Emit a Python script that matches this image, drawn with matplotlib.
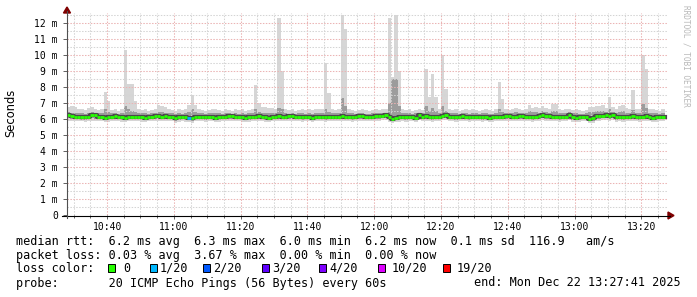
import numpy as np
import matplotlib
matplotlib.use('Agg')
import matplotlib.pyplot as plt
from matplotlib.patches import Polygon, Rectangle
from matplotlib.lines import Line2D

# minutes since midnight, first sample 10:28, one sample per minute
t_start = 10 * 60 + 28
t_end = 13 * 60 + 28

# median rtt (ms)
med = [6.27, 6.2, 6.12, 6.12, 6.1, 6.1, 6.12, 6.25, 6.22, 6.12,
       6.12, 6.06, 6.1, 6.14, 6.16, 6.12, 6.1, 6.08, 6.15, 6.12,
       6.14, 6.12, 6.1, 6.08, 6.1, 6.15, 6.18, 6.16, 6.15, 6.18,
       6.14, 6.12, 6.04, 6.1, 6.12, 6.1, 6.08, 6.04, 6.12, 6.14,
       6.12, 6.1, 6.15, 6.12, 6.08, 6.1, 6.14, 6.12, 6.16, 6.18,
       6.15, 6.12, 6.1, 6.08, 6.1, 6.12, 6.14, 6.16, 6.12, 6.1,
       6.08, 6.12, 6.14, 6.16, 6.12, 6.14, 6.16, 6.18, 6.15, 6.12,
       6.1, 6.12, 6.14, 6.06, 6.12, 6.14, 6.12, 6.1, 6.14, 6.12,
       6.12, 6.14, 6.16, 6.14, 6.12, 6.1, 6.12, 6.18, 6.16, 6.14,
       6.12, 6.14, 6.16, 6.18, 6.2, 6.22, 6.1, 6.02, 6.08, 6.1,
       6.12, 6.1, 6.14, 6.12, 6.08, 6.26, 6.14, 6.16, 6.12, 6.1,
       6.12, 6.14, 6.2, 6.25, 6.14, 6.12, 6.1, 6.14, 6.16, 6.12,
       6.1, 6.12, 6.14, 6.12, 6.1, 6.12, 6.08, 6.1, 6.12, 6.14,
       6.12, 6.16, 6.18, 6.14, 6.12, 6.16, 6.18, 6.14, 6.12, 6.1,
       6.14, 6.18, 6.22, 6.18, 6.16, 6.14, 6.12, 6.1, 6.12, 6.14,
       6.25, 6.1, 6.06, 6.1, 6.12, 6.14, 6.02, 6.04, 6.16, 6.18,
       6.2, 6.22, 6.18, 6.25, 6.1, 6.12, 6.1, 6.14, 6.12, 6.16,
       6.14, 6.1, 6.12, 6.16, 6.12, 6.08, 6.1, 6.14, 6.12]

# slowest ping of each round (top of the smoke)
hi = [6.75, 6.8, 6.75, 6.6, 6.6, 6.55, 6.7, 6.75, 6.6, 6.55,
      6.6, 7.7, 7.1, 6.55, 6.6, 6.5, 6.6, 10.3, 8.2, 8.2,
      7.1, 6.6, 6.55, 6.6, 6.5, 6.55, 6.6, 6.85, 6.8, 6.75,
      6.6, 6.55, 6.5, 6.6, 6.55, 6.6, 6.9, 7.5, 6.9, 6.6,
      6.55, 6.5, 6.55, 6.6, 6.6, 6.55, 6.5, 6.6, 6.55, 6.5,
      6.6, 6.55, 6.6, 6.5, 6.55, 6.6, 8.1, 7.0, 6.75, 6.75,
      6.7, 6.7, 6.6, 12.3, 9.0, 6.6, 6.55, 6.6, 6.5, 6.55,
      6.6, 6.55, 6.6, 6.55, 6.6, 6.65, 6.6, 9.5, 7.6, 6.6,
      6.55, 6.6, 12.5, 11.6, 6.6, 6.55, 6.5, 6.55, 6.6, 6.55,
      6.5, 6.55, 6.6, 6.55, 6.65, 6.6, 12.3, 8.6, 12.5, 9.0,
      6.6, 6.55, 6.6, 6.5, 6.55, 6.6, 6.55, 9.1, 7.4, 8.8,
      7.35, 6.65, 10.0, 7.85, 6.6, 6.55, 6.6, 6.5, 6.55, 6.6,
      6.55, 6.6, 6.55, 6.5, 6.55, 6.6, 6.55, 6.5, 6.6, 8.3,
      7.25, 6.6, 6.55, 6.6, 6.7, 6.6, 6.55, 6.6, 6.9, 6.7,
      6.75, 6.7, 6.8, 6.7, 6.65, 6.95, 6.95, 6.6, 6.55, 6.6,
      6.65, 6.55, 6.6, 6.55, 6.5, 6.55, 6.75, 6.75, 6.8, 6.8,
      6.85, 6.7, 7.35, 6.75, 6.6, 6.8, 6.85, 6.7, 6.6, 7.8,
      6.65, 6.6, 10.0, 9.15, 6.65, 6.6, 6.55, 6.5, 6.6]

# upper edge of the dense part of the smoke
up = [6.45, 6.4, 6.4, 6.35, 6.35, 6.3, 6.4, 6.45, 6.4, 6.35,
      6.35, 6.6, 6.45, 6.35, 6.4, 6.3, 6.35, 6.8, 6.6, 6.5,
      6.45, 6.4, 6.35, 6.35, 6.3, 6.35, 6.4, 6.45, 6.45, 6.4,
      6.35, 6.35, 6.3, 6.35, 6.3, 6.35, 6.45, 6.6, 6.45, 6.35,
      6.35, 6.3, 6.35, 6.35, 6.4, 6.35, 6.3, 6.35, 6.35, 6.3,
      6.35, 6.3, 6.35, 6.3, 6.35, 6.35, 6.6, 6.45, 6.4, 6.4,
      6.4, 6.4, 6.35, 6.7, 6.6, 6.35, 6.3, 6.35, 6.3, 6.35,
      6.35, 6.3, 6.35, 6.3, 6.35, 6.4, 6.35, 6.6, 6.45, 6.35,
      6.35, 6.4, 7.3, 6.8, 6.4, 6.35, 6.3, 6.35, 6.35, 6.3,
      6.3, 6.35, 6.35, 6.35, 6.4, 6.4, 7.0, 8.5, 8.5, 6.8,
      6.4, 6.35, 6.35, 6.3, 6.35, 6.4, 6.35, 6.8, 6.5, 6.7,
      6.5, 6.4, 6.8, 6.5, 6.4, 6.35, 6.35, 6.3, 6.35, 6.35,
      6.3, 6.35, 6.35, 6.3, 6.35, 6.35, 6.3, 6.3, 6.35, 6.6,
      6.45, 6.35, 6.35, 6.4, 6.45, 6.4, 6.35, 6.4, 6.5, 6.45,
      6.45, 6.4, 6.5, 6.45, 6.4, 6.5, 6.5, 6.4, 6.35, 6.35,
      6.45, 6.35, 6.35, 6.3, 6.3, 6.35, 6.45, 6.45, 6.5, 6.5,
      6.5, 6.45, 6.6, 6.45, 6.4, 6.45, 6.5, 6.4, 6.35, 6.55,
      6.4, 6.35, 6.95, 6.7, 6.4, 6.35, 6.35, 6.3, 6.35]

# lower edge of the dense part of the smoke
dn = [6.05, 6.0, 5.98, 5.98, 5.96, 5.96, 5.98, 6.05, 6.02, 5.98,
      5.98, 5.92, 5.96, 6.0, 6.0, 5.98, 5.96, 5.94, 6.0, 5.98,
      6.0, 5.98, 5.96, 5.94, 5.96, 6.0, 6.02, 6.0, 6.0, 6.02,
      6.0, 5.98, 5.9, 5.96, 5.98, 5.96, 5.94, 5.9, 5.98, 6.0,
      5.98, 5.96, 6.0, 5.98, 5.94, 5.96, 6.0, 5.98, 6.0, 6.02,
      6.0, 5.98, 5.96, 5.94, 5.96, 5.98, 6.0, 6.0, 5.98, 5.96,
      5.94, 5.98, 6.0, 6.0, 5.98, 6.0, 6.0, 6.02, 6.0, 5.98,
      5.96, 5.98, 6.0, 5.92, 5.98, 6.0, 5.98, 5.96, 6.0, 5.98,
      5.98, 6.0, 6.0, 6.0, 5.98, 5.96, 5.98, 6.02, 6.0, 6.0,
      5.98, 6.0, 6.0, 6.02, 6.04, 6.05, 5.96, 5.88, 5.94, 5.96,
      5.98, 5.96, 6.0, 5.98, 5.94, 6.08, 6.0, 6.0, 5.98, 5.96,
      5.98, 6.0, 6.04, 6.08, 6.0, 5.98, 5.96, 6.0, 6.0, 5.98,
      5.96, 5.98, 6.0, 5.98, 5.96, 5.98, 5.94, 5.96, 5.98, 6.0,
      5.98, 6.0, 6.02, 6.0, 5.98, 6.0, 6.02, 6.0, 5.98, 5.96,
      6.0, 6.02, 6.06, 6.02, 6.0, 6.0, 5.98, 5.96, 5.98, 6.0,
      6.08, 5.96, 5.92, 5.96, 5.98, 6.0, 5.88, 5.9, 6.0, 6.02,
      6.04, 6.06, 6.02, 6.08, 5.96, 5.98, 5.96, 6.0, 5.98, 6.0,
      6.0, 5.96, 5.98, 6.0, 5.98, 5.94, 5.96, 6.0, 5.98]

# fastest ping of each round (bottom of the smoke)
lo = [5.9, 5.85, 5.85, 5.88, 5.85, 5.82, 5.85, 5.9, 5.88, 5.85,
      5.85, 5.8, 5.82, 5.88, 5.88, 5.85, 5.82, 5.8, 5.88, 5.85,
      5.88, 5.85, 5.82, 5.8, 5.85, 5.88, 5.9, 5.88, 5.88, 5.9,
      5.88, 5.85, 5.78, 5.82, 5.85, 5.82, 5.8, 5.78, 5.85, 5.88,
      5.85, 5.82, 5.88, 5.85, 5.8, 5.82, 5.88, 5.85, 5.88, 5.9,
      5.88, 5.85, 5.82, 5.8, 5.82, 5.85, 5.88, 5.88, 5.85, 5.82,
      5.8, 5.85, 5.88, 5.88, 5.85, 5.88, 5.88, 5.9, 5.88, 5.85,
      5.82, 5.85, 5.88, 5.8, 5.85, 5.88, 5.85, 5.82, 5.88, 5.85,
      5.85, 5.88, 5.88, 5.88, 5.85, 5.82, 5.85, 5.9, 5.88, 5.88,
      5.85, 5.88, 5.88, 5.9, 5.92, 5.92, 5.82, 5.76, 5.8, 5.82,
      5.85, 5.82, 5.88, 5.85, 5.8, 5.95, 5.88, 5.88, 5.85, 5.82,
      5.85, 5.88, 5.92, 5.95, 5.88, 5.85, 5.82, 5.88, 5.88, 5.85,
      5.82, 5.85, 5.88, 5.85, 5.82, 5.85, 5.8, 5.82, 5.85, 5.88,
      5.85, 5.88, 5.9, 5.88, 5.85, 5.88, 5.9, 5.88, 5.85, 5.82,
      5.88, 5.9, 5.92, 5.9, 5.88, 5.88, 5.85, 5.82, 5.85, 5.88,
      5.95, 5.82, 5.8, 5.82, 5.85, 5.88, 5.76, 5.78, 5.88, 5.9,
      5.92, 5.92, 5.9, 5.95, 5.82, 5.85, 5.82, 5.88, 5.85, 5.88,
      5.88, 5.82, 5.85, 5.88, 5.85, 5.8, 5.82, 5.88, 5.85]

# rounds with lost pings: sample index -> pings lost out of 20
lost = {36: 1}

loss_steps = ['0', '1/20', '2/20', '3/20', '4/20', '10/20', '19/20']
loss_colors = ['#26ff00', '#00b8ff', '#0059ff', '#5e00ff', '#7e00ff', '#dd00ff', '#ff0000']
loss_levels = [0, 1, 2, 3, 4, 10, 19]

rtt_stats = ['6.2', '6.3', '6.0', '6.2', '0.1']
am_s = '116.9'
loss_stats = ['0.03', '3.67', '0.00', '0.00']
probe_txt = '20 ICMP Echo Pings (56 Bytes) every 60s'
end_txt = 'end: Mon Dec 22 13:27:41 2025'

W, H = 697, 297


def P(x, y):
    return (x / W, 1 - y / H)


def loss_color(n):
    c = loss_colors[0]
    for lvl, col in zip(loss_levels, loss_colors):
        if n >= lvl:
            c = col
    return c


def main():
    fig = plt.figure(figsize=(W / 100, H / 100), dpi=100)
    fig.patch.set_facecolor('white')
    ax = fig.add_axes([67 / W, (H - 215) / H, 601 / W, (215 - 12.6) / H])
    ax.set_xlim(t_start, t_end)
    ax.set_ylim(0, 12.65)

    n = len(med)
    x = t_start + np.arange(n + 1)
    def ext(a):
        return np.append(a, a[-1])

    ax.fill_between(x, ext(lo), ext(hi), step='post', color='#d6d6d6', lw=0, zorder=1)
    ax.fill_between(x, ext(dn), ext(up), step='post', color='#9c9c9c', lw=0, zorder=1.1)
    # dark core of the smoke around the median
    ax.step(x, ext(med), where='post', color='#4a4a4a', lw=3.0, zorder=3)
    cols = [loss_color(lost.get(i, 0)) for i in range(n)]
    ax.hlines(med, x[:-1], x[1:], colors=cols, lw=2.0, zorder=3.1, capstyle='butt')

    # grid
    ax.set_xticks(np.arange(t_start + 12, t_end, 20))
    ax.set_xticks(np.arange(t_start + 2, t_end, 5), minor=True)
    ax.set_xticklabels(['%d:%02d' % (m // 60, m % 60) for m in np.arange(t_start + 12, t_end, 20)])
    ax.set_yticks(np.arange(0, 13))
    ax.set_yticks(np.arange(0.5, 12.6, 1), minor=True)
    ax.set_yticklabels(['0'] + ['%d m' % v for v in range(1, 13)])
    ax.set_axisbelow(False)
    ax.grid(which='major', color='#ebb4b4', lw=0.75, linestyle=(0, (1.4, 1.4)), zorder=2.5)
    ax.grid(which='minor', color='#d4d4d4', lw=0.75, linestyle=(0, (1.4, 1.4)), zorder=2.5)

    for s in ['top', 'right', 'left', 'bottom']:
        ax.spines[s].set_visible(False)
    ax.tick_params(which='both', direction='out', color='#606060', width=0.7,
                   labelsize=7, labelfontfamily='DejaVu Sans Mono')
    ax.tick_params(axis='x', which='major', length=3, pad=2)
    ax.tick_params(axis='x', which='minor', length=2)
    ax.tick_params(axis='y', which='major', length=3, pad=3.5)
    ax.tick_params(axis='y', which='minor', length=0)

    # axes lines and arrows
    fig.add_artist(Line2D([62 / W, 670 / W], [P(0, 215.5)[1]] * 2, color='black', lw=0.8))
    fig.add_artist(Line2D([P(67, 0)[0]] * 2, [P(0, 218)[1], P(0, 11)[1]], color='#505050', lw=0.8))
    fig.add_artist(Polygon([P(63.5, 13), P(70.5, 13), P(67, 7)], closed=True, color='#7f0000'))
    fig.add_artist(Polygon([P(668, 212), P(668, 219), P(674, 215.5)], closed=True, color='#7f0000'))

    fig.text(*P(11, 113), 'Seconds', rotation=90, ha='center', va='center', fontsize=8.3,
             family='DejaVu Sans')
    fig.text(*P(686, 5), 'RRDTOOL / TOBI OETIKER', rotation=270, ha='center', va='top',
             fontsize=5.6, family='DejaVu Sans Mono', color='#b8b8b8')

    mono = dict(family='DejaVu Sans Mono', fontsize=8.5, va='center')
    a, b, c, d, e = rtt_stats
    row1 = 'median rtt:  %s ms avg  %s ms max  %s ms min  %s ms now  %s ms sd  %s   am/s' % (a, b, c, d, e, am_s)
    row2 = 'packet loss: %s %% avg  %s %% max  %s %% min  %s %% now' % tuple(loss_stats)
    fig.text(*P(16, 241), row1, **mono)
    fig.text(*P(16, 255), row2, **mono)
    fig.text(*P(16, 268), 'loss color:', **mono)
    box_x = [108, 150, 203, 262, 319, 378, 443]
    txt_x = [123, 160, 213, 272, 329, 392, 457]
    for bx, tx, lab, col in zip(box_x, txt_x, loss_steps, loss_colors):
        fig.add_artist(Rectangle(P(bx, 272), 7 / W, 8 / H, facecolor=col, edgecolor='black', lw=0.7))
        fig.text(*P(tx, 268), lab, **mono)
    fig.text(*P(16, 283), 'probe:       ' + probe_txt, **mono)
    fig.text(*P(681, 283), end_txt, ha='right', family='DejaVu Sans Mono', fontsize=8.5, va='center')

    fig.savefig('out.png', dpi=100, facecolor='white')


if __name__ == '__main__':
    main()
